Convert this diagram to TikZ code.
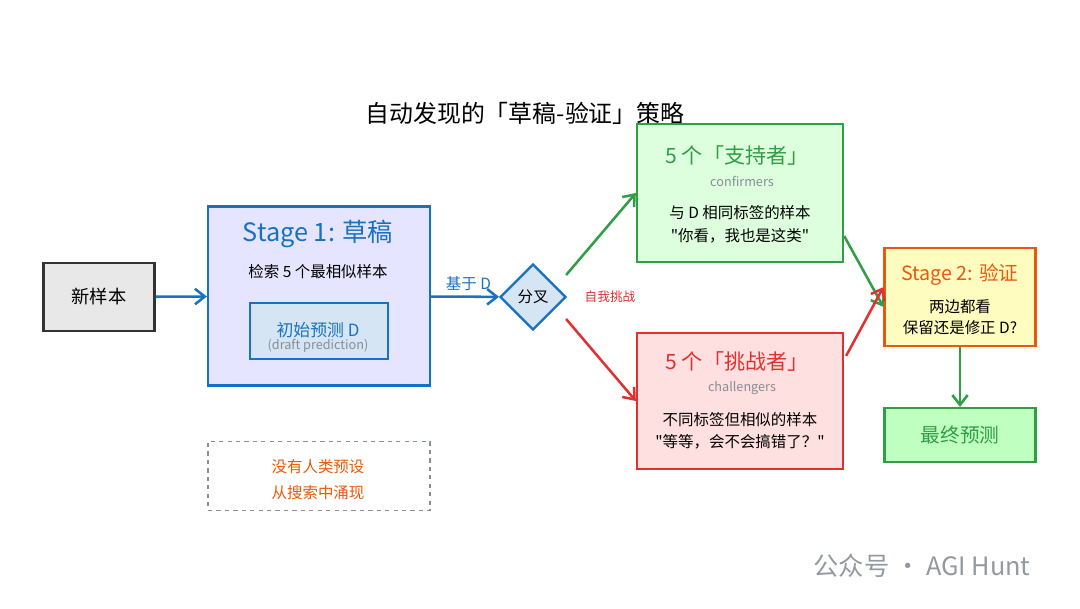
\documentclass[tikz,border=0pt]{standalone}
\usepackage{fontspec}
\setmainfont{Noto Sans CJK SC}[Ligatures=TeXOff]
\usepackage{tikz}
\usetikzlibrary{shapes.geometric,arrows.meta}
\definecolor{cBlue}{HTML}{1971C2}
\definecolor{cGreen}{HTML}{2F9E44}
\definecolor{cRed}{HTML}{E03131}
\definecolor{cOrange}{HTML}{E8590C}
\definecolor{cGray}{HTML}{868E96}
\tikzset{
  box/.style n args={4}{draw=#1,fill=#2,line width=1.6pt,minimum width=#3,minimum height=#4,rectangle,inner sep=0pt},
  arr/.style={-{Straight Barb[length=7pt,width=11pt]},line width=1.8pt,#1},
  txt/.style={font=\fontsize{11}{13}\selectfont,align=center}
}
\begin{document}
\begin{tikzpicture}[x=0.025cm,y=-0.025cm]
\useasboundingbox (0,0) rectangle (1080,608);
\node[font=\fontsize{17}{19}\selectfont] (title) at (525,113) {自动发现的「草稿-验证」策略};
% left part
\node[box={black!80}{black!9}{2.775cm}{1.7cm}] (new) at (99,297) {};
\node[font=\fontsize{13}{15}\selectfont] at (new) {新样本};
\node[box={cBlue}{blue!10}{5.55cm}{4.475cm}] (draft) at (319,296) {};
\node[font=\fontsize{18}{20}\selectfont,text=cBlue] (draftT) at (318,234) {Stage 1: 草稿};
\node[txt] (draftS) at (318,272) {检索 5 个最相似样本};
\node[box={cBlue}{cBlue!18}{3.45cm}{1.4cm}] (pred) at (319,331) {};
\node[txt,text=cBlue,font=\fontsize{12}{13}\selectfont] at (318,330) {初始预测 D};
\node[txt,text=cGray,font=\fontsize{9}{10}\selectfont] at (318,346) {(draft prediction)};
\node[diamond,draw=cBlue,fill=cBlue!18,line width=1.6pt,minimum width=1.65cm,minimum height=1.65cm,inner sep=0pt] (fork) at (533,297) {};
\node[txt] at (fork) {分叉};
\node[text=cRed,font=\fontsize{9}{10}\selectfont] (self) at (610,297) {自我挑战};
% right part
\node[box={cGreen}{green!13}{5.15cm}{3.45cm}] (conf) at (740,193) {};
\node[text=cGreen,font=\fontsize{15}{17}\selectfont] at (737,155) {5 个「支持者」};
\node[text=cGray,font=\fontsize{9}{10}\selectfont] at (742,181) {confirmers};
\node[txt] at (740,213) {与 D 相同标签的样本};
\node[txt] at (740,236) {"你看，我也是这类"};
\node[box={cRed}{red!12}{5.15cm}{3.4cm}] (chal) at (740,401) {};
\node[text=cRed,font=\fontsize{15}{17}\selectfont] at (737,361) {5 个「挑战者」};
\node[text=cGray,font=\fontsize{9}{10}\selectfont] at (742,388) {challengers};
\node[txt] at (740,420) {不同标签但相似的样本};
\node[txt] at (740,442) {"等等，会不会搞错了？"};
\node[box={cOrange}{yellow!25}{3.775cm}{2.45cm}] (verify) at (960,297) {};
\node[text=cOrange,font=\fontsize{14}{16}\selectfont] at (960,275) {Stage 2: 验证};
\node[txt] at (960,307) {两边都看};
\node[txt] at (960,328) {保留还是修正 D?};
\node[box={cGreen}{green!25}{3.775cm}{1.35cm}] (final) at (960,435) {};
\node[text=cGreen,font=\fontsize{14}{16}\selectfont] at (final) {最终预测};
% note
\node[box={cGray}{white}{5.55cm}{1.725cm},dashed,line width=0.9pt] (note) at (319,476) {};
\node[text=cOrange,font=\fontsize{11}{13}\selectfont] at (318,467) {没有人类预设};
\node[text=cOrange,font=\fontsize{11}{13}\selectfont] at (318,493) {从搜索中涌现};
\node[text=cGray!90,font=\fontsize{18}{20}\selectfont] (mark) at (922,566) {公众号 · AGI Hunt};
% connectors
\draw[arr=cBlue] (new) -- (draft);
\draw[arr=cBlue] (draft) -- node[above,font=\fontsize{11}{13}\selectfont,text=cBlue,pos=0.55]{基于 D} (fork);
\draw[arr=cGreen] ([shift={(-1,-22)}]fork.east) -- (conf.west);
\draw[arr=cRed] ([shift={(-1,22)}]fork.east) -- (chal.west);
\draw[arr=cGreen] (conf.east) ++(0,43) coordinate (c1) (c1) -- ([yshift=-7]verify.west);
\draw[arr=cRed] (chal.north east) ++(2,24) coordinate (c2) (c2) -- ([yshift=7]verify.west);
\draw[arr=cGreen] (verify) -- (final);
\end{tikzpicture}
\end{document}
